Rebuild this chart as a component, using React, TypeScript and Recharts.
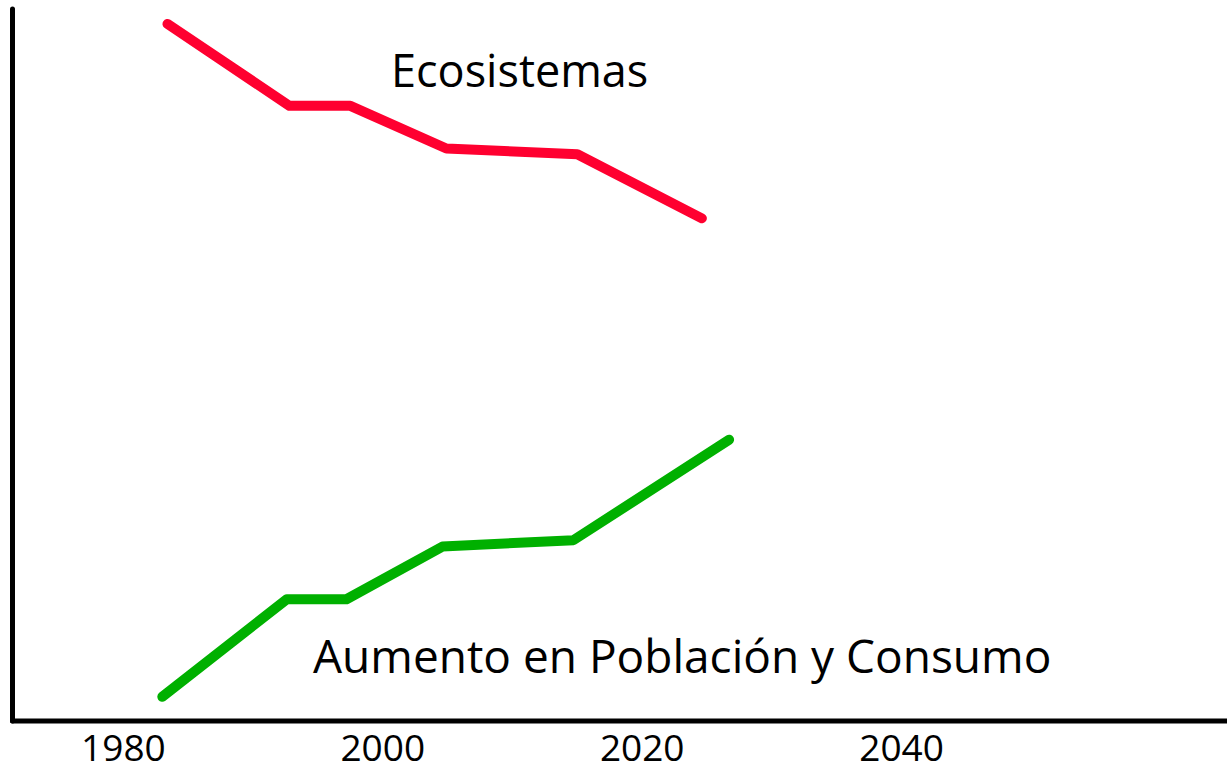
import { LineChart, Line, XAxis, YAxis } from "recharts";

// years (x positions of the bends)
const ecoYears = [1983.4, 1992.8, 1997.5, 2004.9, 2015.0, 2024.6];
const ecoValues = [97.9, 86.4, 86.4, 80.4, 79.6, 70.6];

const popYears = [1983.0, 1992.6, 1997.2, 2004.6, 2014.7, 2026.7];
const popValues = [3.4, 17.1, 17.1, 24.5, 25.4, 39.5];

const yearTicks = [1980, 2000, 2020, 2040];

const ecoData = ecoYears.map((year, i) => ({ year, value: ecoValues[i] }));
const popData = popYears.map((year, i) => ({ year, value: popValues[i] }));

const FONT = "'Open Sans', 'Noto Sans', sans-serif";
const axisStyle = { stroke: "#000", strokeWidth: 5, strokeLinecap: "round" as const };

export default function App() {
  return (
    <div style={{ position: "fixed", left: 0, top: 0, width: 1227, height: 773, background: "#fff" }}>
      <LineChart
        width={1227}
        height={773}
        margin={{ top: 9, right: 0, left: 11.5, bottom: 0 }}
      >
        <XAxis
          type="number"
          dataKey="year"
          domain={[1971.45, 2065.09]}
          allowDataOverflow
          ticks={yearTicks}
          tickLine={false}
          tickSize={6}
          tickMargin={8}
          height={52}
          axisLine={axisStyle}
          tick={{ fontSize: 37, fill: "#000", fontFamily: FONT }}
        />
        <YAxis
          type="number"
          domain={[0, 100]}
          width={1}
          tick={false}
          tickLine={false}
          axisLine={axisStyle}
        />
        <Line
          data={ecoData}
          dataKey="value"
          stroke="#ff0030"
          strokeWidth={10}
          strokeLinecap="round"
          strokeLinejoin="round"
          dot={false}
          isAnimationActive={false}
        />
        <Line
          data={popData}
          dataKey="value"
          stroke="#00b000"
          strokeWidth={10}
          strokeLinecap="round"
          strokeLinejoin="round"
          dot={false}
          isAnimationActive={false}
        />
      </LineChart>
      <svg
        width={1227}
        height={773}
        style={{ position: "absolute", left: 0, top: 0, pointerEvents: "none" }}
      >
        <text x={391} y={87} fontSize={45} fontFamily={FONT} fill="#000">
          Ecosistemas
        </text>
        <text x={313} y={673} fontSize={46} fontFamily={FONT} fill="#000">
          Aumento en Población y Consumo
        </text>
      </svg>
    </div>
  );
}
